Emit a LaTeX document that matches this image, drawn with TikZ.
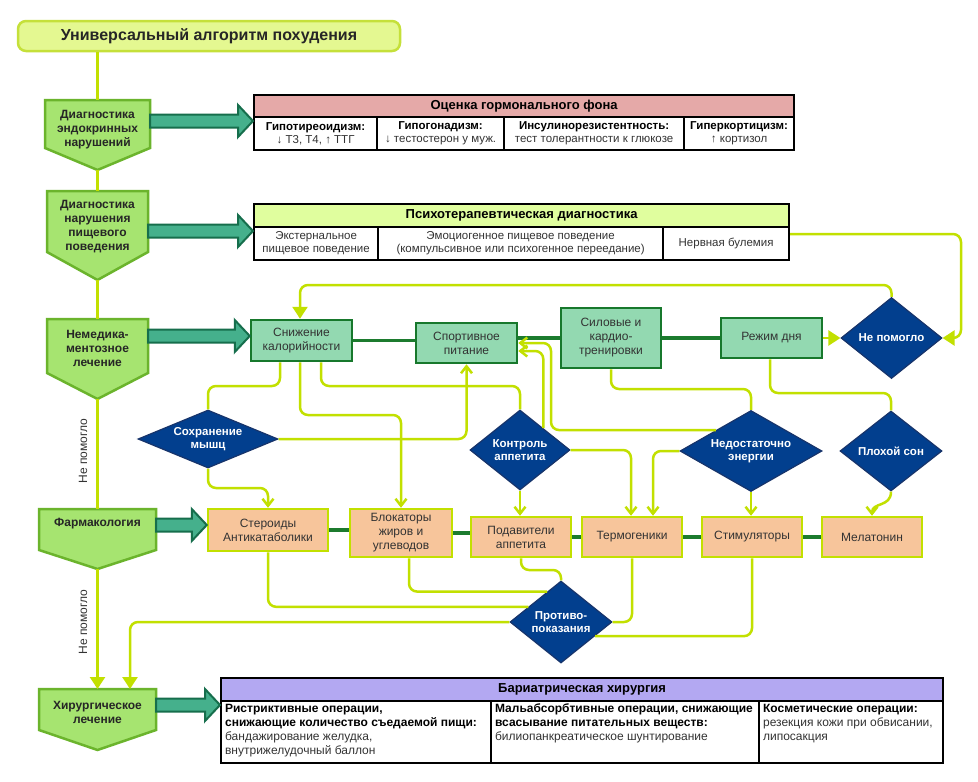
\documentclass[tikz,border=0pt]{standalone}
\usepackage{fontspec}
\setmainfont{Liberation Sans}
\usetikzlibrary{shapes.geometric,arrows.meta,calc}
\definecolor{titlefill}{HTML}{E4F891}
\definecolor{titledraw}{HTML}{C5E03A}
\definecolor{pentfill}{HTML}{A6E470}
\definecolor{pentdraw}{HTML}{6BB42C}
\definecolor{bigfill}{HTML}{45B08C}
\definecolor{bigdraw}{HTML}{166E4C}
\definecolor{mintfill}{HTML}{93D9B1}
\definecolor{mintdraw}{HTML}{17782C}
\definecolor{orfill}{HTML}{F7C59B}
\definecolor{limec}{HTML}{C2E000}
\definecolor{diafill}{HTML}{023F8E}
\definecolor{diadraw}{HTML}{17346B}
\definecolor{dgreen}{HTML}{1C7B2E}
\definecolor{hpink}{HTML}{E5A9A8}
\definecolor{hlime}{HTML}{E0FE9E}
\definecolor{hviolet}{HTML}{B3A8F2}
\definecolor{txt}{HTML}{333333}
\newcommand\pentshape[5]{\path[pent] (#1,#3) -- (#2,#3) -- (#2,#4) -- ({(#1+#2)/2},#5) -- (#1,#4) -- cycle;}
\newcommand\bigarrow[2]{\draw[bigarr] let \p1=(#1), \p2=(#2) in (\x1,\y1+6.5pt) -- (\x2-15pt,\y1+6.5pt) -- (\x2-15pt,\y1+16pt) -- (\x2,\y1) -- (\x2-15pt,\y1-16pt) -- (\x2-15pt,\y1-6.5pt) -- (\x1,\y1-6.5pt) -- cycle;}
\begin{document}
\begin{tikzpicture}[x=1pt,y=-1pt,
  every node/.style={font=\fontsize{12}{14}\selectfont, text=txt},
  titlebox/.style={draw=titledraw, fill=titlefill, line width=2.5pt, rounded corners=8pt, minimum width=382pt, minimum height=30pt, font=\fontsize{16}{18}\selectfont\bfseries, text=black!85},
  pent/.style={draw=pentdraw, fill=pentfill, line width=2.5pt, line join=miter},
  penttext/.style={align=center, font=\fontsize{12}{14}\selectfont\bfseries, text=black!85, inner sep=0pt},
  bigarr/.style={draw=bigdraw, fill=bigfill, line width=2pt, line join=miter},
  mint/.style={draw=mintdraw, fill=mintfill, line width=2.5pt, align=center, inner sep=1pt},
  orbox/.style={draw=limec, fill=orfill, line width=2.5pt, align=center, inner sep=1pt},
  dia/.style={diamond, draw=diadraw, fill=diafill, line width=1.2pt, inner sep=0pt, align=center, text=white, font=\fontsize{11.5}{13}\selectfont\bfseries},
  hdr/.style={draw=black, line width=2.2pt, anchor=north west, inner sep=0pt, font=\fontsize{13}{15}\selectfont\bfseries, text=black},
  cell/.style={draw=black, line width=2.2pt, anchor=north west, inner sep=1pt, align=center, font=\fontsize{11.5}{13}\selectfont},
  lcell/.style={draw=black, line width=2.2pt, anchor=north west, inner sep=2pt, font=\fontsize{12}{14}\selectfont},
  link/.style={draw=limec, line width=2.5pt, rounded corners=8pt},
  linka/.style={link, -{Straight Barb[length=7pt,width=11pt]}},
  linkb/.style={link, -{Triangle[length=12pt,width=15pt]}},
  chain/.style={draw=dgreen, line width=3.3pt},
  side/.style={rotate=90, font=\fontsize{12}{14}\selectfont}
]
\useasboundingbox (0,0) rectangle (978,782);
\fill[white] (0,0) rectangle (978,782);

% title
\node[titlebox] (title) at (209,36) {Универсальный алгоритм похудения};

% pentagons
\pentshape{45}{150}{100}{148}{170}
\pentshape{47}{148}{191}{252}{280}
\pentshape{47}{148}{319}{373}{399}
\pentshape{39}{156}{509}{550}{569}
\pentshape{39}{156}{689}{730}{750}
\node[penttext] (p1) at (97.5,130) {Диагностика\\эндокринных\\нарушений};
\node[penttext] (p2) at (97.5,227) {Диагностика\\нарушения\\пищевого\\поведения};
\node[penttext] (p3) at (97.5,348) {Немедика-\\ментозное\\лечение};
\node[penttext] (p4) at (97.5,524) {Фармакология};
\node[penttext] (p5) at (97.5,712) {Хирургическое\\лечение};
\coordinate (p1top) at (97.5,100); \coordinate (p1tip) at (97.5,170);
\coordinate (p2top) at (97.5,191); \coordinate (p2tip) at (97.5,280);
\coordinate (p3top) at (97.5,319); \coordinate (p3tip) at (97.5,399);
\coordinate (p4top) at (97.5,509); \coordinate (p4tip) at (97.5,569);
\coordinate (p5top) at (97.5,689);
\coordinate (a1) at (150,121);
\coordinate (a2) at (148,231);
\coordinate (a3) at (148,336);
\coordinate (a4) at (156,525);
\coordinate (a5) at (156,705);

% table 1
\node[hdr, fill=hpink, minimum width=540pt, minimum height=22pt] (t1) at (253,94) {Оценка гормонального фона};
\node[cell, minimum width=123pt, minimum height=33pt] (t1a) at (253,116) {{\color{black}\bfseries Гипотиреоидизм:}\\↓ Т3, Т4, ↑ ТТГ};
\node[cell, minimum width=127pt, minimum height=33pt] (t1b) at (376,116) {{\color{black}\bfseries Гипогонадизм:}\\↓ тестостерон у муж.};
\node[cell, minimum width=180pt, minimum height=33pt] (t1c) at (503,116) {{\color{black}\bfseries Инсулинорезистентность:}\\тест толерантности к глюкозе};
\node[cell, minimum width=110pt, minimum height=33pt] (t1d) at (683,116) {{\color{black}\bfseries Гиперкортицизм:}\\↑ кортизол};

% table 2
\node[hdr, fill=hlime, minimum width=535pt, minimum height=23pt] (t2) at (253,203) {Психотерапевтическая диагностика};
\node[cell, minimum width=124pt, minimum height=33pt] (t2a) at (253,226) {Экстернальное\\пищевое поведение};
\node[cell, minimum width=285pt, minimum height=33pt] (t2b) at (377,226) {Эмоциогенное пищевое поведение\\(компульсивное или психогенное переедание)};
\node[cell, minimum width=126pt, minimum height=33pt] (t2c) at (662,226) {\raisebox{3pt}{Нервная булемия}};

% table 3
\node[hdr, fill=hviolet, minimum width=722pt, minimum height=23pt] (t3) at (220,677) {Бариатрическая хирургия};
\node[lcell, minimum width=270pt, minimum height=62pt] (t3a) at (220,700) {\parbox[c][56pt][t]{262pt}{\raggedright{\color{black}\bfseries Ристриктивные операции,\\снижающие количество съедаемой пищи:}\\бандажирование желудка,\\внутрижелудочный баллон}};
\node[lcell, minimum width=268pt, minimum height=62pt] (t3b) at (490,700) {\parbox[c][56pt][t]{260pt}{\raggedright{\color{black}\bfseries Мальабсорбтивные операции, снижающие\\всасывание питательных веществ:}\\билиопанкреатическое шунтирование}};
\node[lcell, minimum width=184pt, minimum height=62pt] (t3c) at (758,700) {\parbox[c][56pt][t]{176pt}{\raggedright{\color{black}\bfseries Косметические операции:}\\резекция кожи при обвисании,\\липосакция}};

% big arrows
\bigarrow{a1}{t1.west}
\bigarrow{a2}{t2.west}

% mint boxes
\node[mint, minimum width=101pt, minimum height=41pt] (sk) at (301.5,340.5) {Снижение\\калорийности};
\node[mint, minimum width=101pt, minimum height=40pt] (sp) at (466.5,343) {Спортивное\\питание};
\node[mint, minimum width=100pt, minimum height=60pt] (si) at (611,338) {Силовые и\\кардио-\\тренировки};
\node[mint, minimum width=101pt, minimum height=40pt] (rd) at (771.5,338) {Режим дня};

% orange boxes
\node[orbox, minimum width=120pt, minimum height=42pt] (st) at (268,530) {Стероиды\\Антикатаболики};
\node[orbox, minimum width=102pt, minimum height=48pt] (bl) at (401,533) {Блокаторы\\жиров и\\углеводов};
\node[orbox, minimum width=100pt, minimum height=40pt] (po) at (521,537) {Подавители\\аппетита};
\node[orbox, minimum width=100pt, minimum height=40pt] (te) at (632,537) {Термогеники};
\node[orbox, minimum width=100pt, minimum height=40pt] (sti) at (752,537) {Стимуляторы};
\node[orbox, minimum width=100pt, minimum height=40pt] (me) at (872,537) {Мелатонин};

\bigarrow{a3}{sk.west}
\bigarrow{a4}{st.west}
\bigarrow{a5}{t3.west}

% diamonds
\node[dia, aspect=2.41, minimum width=140pt, minimum height=58pt] (smd) at (208,439) {Сохранение\\мышц};
\node[dia, aspect=1.25, minimum width=100pt, minimum height=80pt] (ka) at (520,450) {Контроль\\аппетита};
\node[dia, aspect=1.75, minimum width=142pt, minimum height=81pt] (ne) at (751,451) {Недостаточно\\энергии};
\node[dia, aspect=1.27, minimum width=102pt, minimum height=80pt] (ps) at (891,451) {Плохой сон};
\node[dia, aspect=1.25, minimum width=101pt, minimum height=81pt] (nh) at (891.5,338) {Не помогло};
\node[dia, aspect=1.24, minimum width=102pt, minimum height=82pt] (pp) at (561,622) {Противо-\\показания};

% side labels
\node[side] (lb1) at (83,451) {Не помогло};
\node[side] (lb2) at (83,622) {Не помогло};

% spine
\draw[link] (title.south -| p1top) -- (p1top);
\draw[link] (p1tip) -- (p2top);
\draw[link] (p2tip) -- (p3top);
\draw[link] (p3tip) -- (p4top);
\draw[linkb] (p4tip) -- (p5top);

% chains
\draw[chain] (sk.east) -- (sk.east -| sp.west);
\draw[chain] (si.west -| sp.east) -- (si.west);
\draw[chain] (si.east) -- (rd.west);
\draw[chain] (st.east) -- (st.east -| bl.west);
\draw[chain] (bl.east) -- (bl.east -| po.west);
\draw[chain] (po.east) -- (te.west);
\draw[chain] (te.east) -- (sti.west);
\draw[chain] (sti.east) -- (me.west);

% lime connectors
\coordinate (c1) at (280,386);
\coordinate (c2) at (300,415);
\coordinate (c3) at (321,386);
\coordinate (c5) at (208,488);
\coordinate (c9) at (551,430);
\coordinate (c10) at (611,389);
\coordinate (c13) at (770,393);
\coordinate (c16) at (961,234);
\coordinate (c17) at (300,285);
\coordinate (c20) at (521,570);
\coordinate (c23) at (130,689);
\coordinate (kaedge) at ($(ka.north)!0.46!(ka.east)$);
\coordinate (needge) at ($(ne.north)!0.49!(ne.west)$);
\coordinate (ppa) at ($(pp.west)!0.366!(pp.north)$);
\coordinate (ppb) at ($(pp.west)!0.732!(pp.north)$);
\coordinate (ppc) at ($(pp.east)!0.34!(pp.south)$);

\draw[link] (sk.south -| c1) -- (c1) -| (smd.north);
\draw[linka] (sk.south -| c2) -- (c2) -| (bl.north);
\draw[link] (sk.south -| c3) -- (c3) -| (ka.north);
\draw[linka] (smd.east) -| (sp.south);
\draw[linka] (smd.south) -- (c5) -| (st.north);
\draw[linka] (ka.south) -- (ka.south |- po.north);
\draw[linka] (ka.east) -| ($(te.north)+(-1,0)$);
\draw[linka] (kaedge) |- ($(sp.east)+(0,8)$);
\draw[linka] (needge) -- (needge -| c9) |- (sp.east);
\draw[link] (si.south) -- (c10) -| (ne.north);
\draw[linka] (ne.west) -| ($(te.north)+(21,0)$);
\draw[linka] (ne.south) -- (ne.south |- sti.north);
\draw[link] (rd.south -| c13) -- (c13) -| (ps.north);
\draw[linka] (ps.south) .. controls +(0,16) and +(0,-14) .. (me.north);
\draw[linkb] (rd.east) -- (nh.west);
\draw[linkb] (c16 -| t2c.east) -- (c16) |- (nh.east);
\draw[linkb] (nh.north) |- (c17) -- (c17 |- sk.north);
\draw[link] (st.south) |- (ppa);
\draw[link] ($(bl.south)+(8,0)$) |- (ppb);
\draw[link] (po.south) -- (c20) -| (pp.north);
\draw[link] (te.south) |- (pp.east);
\draw[link] (sti.south) |- (ppc);
\draw[linkb] (pp.west) -| (c23);
\end{tikzpicture}
\end{document}
